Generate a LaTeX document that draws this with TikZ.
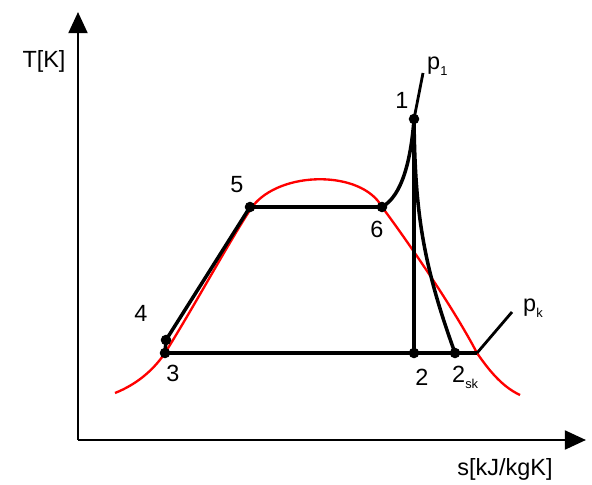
\documentclass[tikz,border=0pt]{standalone}
\usepackage{fontspec}
\setmainfont{Liberation Sans}
\usetikzlibrary{positioning,arrows.meta}

\newcommand{\lowidx}[1]{{\fontsize{11}{12}\selectfont\raisebox{-5pt}{#1}}}

\tikzset{
  axis/.style={line width=2.4pt, -{Triangle[length=18pt,width=16pt]}},
  cycle/.style={line width=3pt},
  sat/.style={red, line width=2pt},
  lbl/.style={font=\fontsize{20}{24}\selectfont, inner sep=0pt},
}

\begin{document}
\begin{tikzpicture}[x=0.03cm, y=-0.03cm]
\useasboundingbox (0,0) rectangle (592,485);

% state points
\coordinate (o) at (78,440);
\coordinate (ytop) at (78,12);
\coordinate (xend) at (586,440);
\coordinate (s1) at (414,119);
\coordinate (s2) at (414,353);
\coordinate (s2sk) at (455,353);
\coordinate (s3) at (165,353);
\coordinate (s4) at (166,340);
\coordinate (s5) at (250,207);
\coordinate (s6) at (382,207);
\coordinate (ck) at (477,353);
\coordinate (p1end) at (423,73);
\coordinate (pkend) at (512,312);

% axes
\draw[axis] (o) -- (ytop);
\draw[axis] (o) -- (xend);

% saturation curve
\draw[sat] (115,393) .. controls (135,385) and (152,372) .. (165,353)
  .. controls (195,305) and (230,240) .. (252,207)
  .. controls (280,170) and (362,170) .. (382,207)
  .. controls (403,235) and (452,305) .. (ck)
  .. controls (492,375) and (505,388) .. (520,395);

% cycle
\draw[cycle] (s3) -- (s4) -- (s5) -- (s6);
\draw[cycle] (s6) .. controls (402,196) and (411,160) .. (s1);
\draw[cycle] (s1) -- (s2);
\draw[cycle] (s1) .. controls (415,210) and (422,262) .. (s2sk);
\draw[cycle] (s3) -- (ck);

% isobars
\draw[line width=2.4pt] (s1) -- (p1end);
\draw[line width=2.4pt] (ck) -- (pkend);

\foreach \p in {s1,s2,s2sk,s3,s4,s5,s6}
  \fill (\p) circle (4.5pt);

% labels
\node[lbl] (tlab) at (44,61) {T[K]};
\node[lbl] (slab) at (505,469) {s[kJ/kgK]};
\node[lbl] (l1) at (402,100) {1};
\node[lbl] (l2) at (422,377) {2};
\node[lbl, anchor=west] (l2sk) at (452,377) {2\lowidx{sk}};
\node[lbl] (l3) at (173,373) {3};
\node[lbl] (l4) at (141,313) {4};
\node[lbl] (l5) at (237,185) {5};
\node[lbl] (l6) at (377,229) {6};
\node[lbl, anchor=west] (lp1) at (427,66) {p\lowidx{1}};
\node[lbl, anchor=west] (lpk) at (523,308) {p\lowidx{k}};

\end{tikzpicture}
\end{document}
